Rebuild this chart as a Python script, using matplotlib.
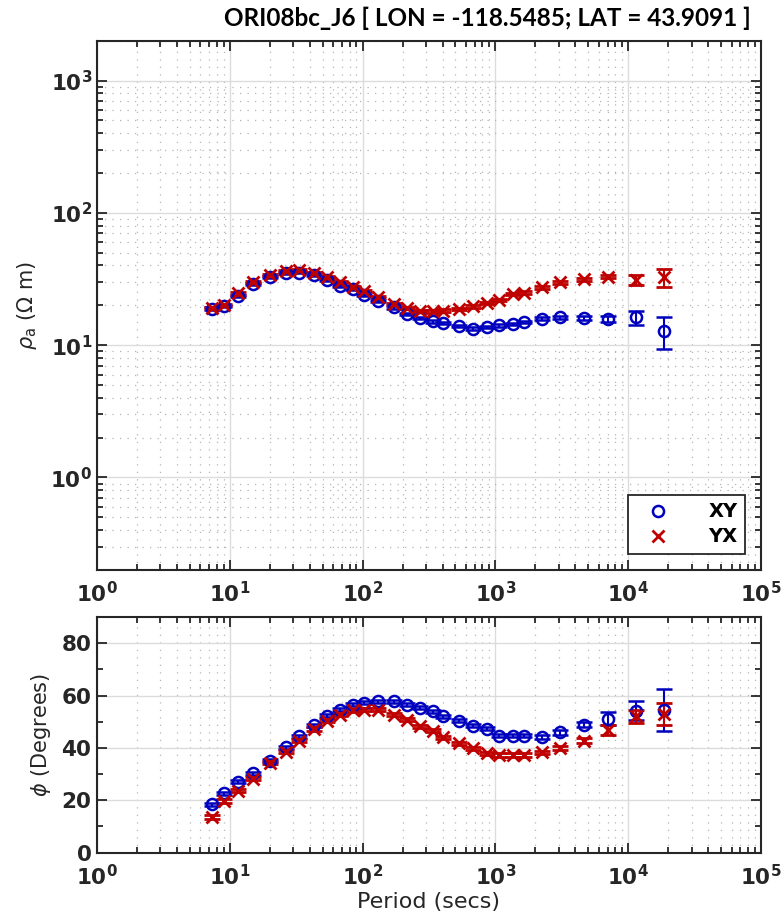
import numpy as np
import matplotlib
matplotlib.use("Agg")
import matplotlib.pyplot as plt
from matplotlib.lines import Line2D
from matplotlib.ticker import LogLocator, FixedLocator, NullFormatter, FuncFormatter

# ---- data ----
periods = [7.3, 9.1, 11.6, 15.0, 20.0, 26.4, 33.0, 42.8, 54.0, 68.0, 84.5, 102, 131, 171,
           216, 273, 341, 401, 530, 683, 860, 1072, 1349, 1652, 2240, 3060, 4670, 7110,
           11540, 18650]

rho_xy = [18.9, 19.8, 23.6, 28.9, 32.5, 35.0, 35.4, 34.0, 31.2, 28.1, 26.8, 23.9, 21.7, 19.3,
          17.3, 16.0, 15.1, 14.7, 14.0, 13.3, 13.7, 14.1, 14.5, 14.9, 15.8, 16.2, 16.0, 15.7,
          16.2, 12.9]
rho_yx = [19.0, 20.0, 24.6, 29.8, 33.8, 36.4, 36.8, 35.4, 32.8, 29.8, 27.6, 25.8, 23.0, 20.5,
          19.1, 18.1, 18.0, 18.2, 18.7, 19.6, 20.9, 22.1, 24.3, 25.0, 27.3, 29.8, 31.5, 33.0,
          31.2, 32.5]
rho_xy_err = [0.4, 0.4, 0.5, 0.5, 0.6, 0.6, 0.6, 0.6, 0.5, 0.5, 0.5, 0.4, 0.4, 0.4,
              0.3, 0.3, 0.3, 0.3, 0.3, 0.3, 0.3, 0.3, 0.3, 0.3, 0.4, 0.4, 0.6, 0.8,
              2.0, 3.5]
rho_yx_err = [0.4, 0.4, 0.5, 0.5, 0.6, 0.6, 0.6, 0.6, 0.5, 0.5, 0.5, 0.5, 0.4, 0.4,
              0.4, 0.4, 0.4, 0.4, 0.4, 0.4, 0.4, 0.4, 0.5, 0.5, 0.6, 0.7, 0.9, 1.0,
              2.8, 5.0]

phi_xy = [18.5, 22.6, 27.0, 30.3, 35.1, 40.3, 44.4, 48.6, 52.3, 54.6, 56.5, 57.2, 57.8, 57.8,
          56.5, 55.3, 54.0, 52.0, 50.4, 48.5, 47.3, 44.7, 44.7, 44.6, 44.1, 45.9, 48.8, 51.2,
          54.2, 54.4]
phi_yx = [13.6, 19.7, 23.6, 28.3, 34.3, 38.6, 42.8, 47.2, 50.4, 52.7, 54.3, 54.6, 54.6, 52.7,
          50.8, 48.3, 46.5, 44.1, 41.8, 39.9, 38.0, 37.3, 37.3, 37.3, 38.3, 39.9, 42.8, 46.9,
          52.0, 53.0]
phi_xy_err = [0.6, 0.6, 0.6, 0.6, 0.6, 0.6, 0.6, 0.6, 0.6, 0.6, 0.6, 0.6, 0.6, 0.6,
              0.6, 0.6, 0.6, 0.6, 0.6, 0.6, 0.6, 0.6, 0.6, 0.6, 0.7, 0.8, 1.0, 2.5,
              3.6, 8.0]
phi_yx_err = [0.6, 0.6, 0.6, 0.6, 0.6, 0.6, 0.6, 0.6, 0.6, 0.6, 0.6, 0.6, 0.6, 0.6,
              0.6, 0.6, 0.6, 0.6, 0.6, 0.6, 0.6, 0.6, 0.6, 0.6, 0.7, 0.8, 1.0, 2.0,
              2.5, 4.3]

title = "ORI08bc_J6 [ LON = -118.5485; LAT = 43.9091 ]"
blue = (0.0, 0.0, 0.75)
red = (0.75, 0.0, 0.0)
ink = "#262626"

fig = plt.figure(figsize=(7.82, 9.18), dpi=100)
ax1 = fig.add_axes([0.124, 0.3791, 0.8491, 0.5766])
ax2 = fig.add_axes([0.124, 0.0713, 0.8491, 0.2565])


def log_fmt(v, pos):
    return r"$\mathbf{10^{%d}}$" % int(round(np.log10(v)))


def style_axes(ax, ylog):
    ax.set_xscale("log")
    ax.set_xlim(1, 1e5)
    ax.xaxis.set_major_locator(LogLocator(base=10, numticks=10))
    ax.xaxis.set_minor_locator(LogLocator(base=10, subs=np.arange(2, 10), numticks=20))
    ax.xaxis.set_major_formatter(FuncFormatter(log_fmt))
    ax.xaxis.set_minor_formatter(NullFormatter())
    ax.tick_params(which="both", direction="in", top=True, right=True,
                   width=1.3, colors=ink, labelsize=15.5, labelcolor=ink)
    ax.tick_params(which="major", length=7)
    ax.tick_params(which="minor", length=4)
    ax.tick_params(axis="x", which="major", pad=8)
    for s in ax.spines.values():
        s.set_linewidth(1.5)
        s.set_color(ink)
    ax.grid(which="major", color="#dcdcdc", lw=1.0, ls="-")
    ax.xaxis.grid(which="minor", color="#b5b5b5", lw=0.9, ls=(0, (1, 5)))
    if ylog:
        ax.yaxis.grid(which="minor", color="#b5b5b5", lw=0.9, ls=(0, (1, 5)))
    ax.set_axisbelow(True)


# ---- apparent resistivity ----
ax1.set_yscale("log")
ax1.set_ylim(0.2, 2000)
ax1.yaxis.set_major_locator(LogLocator(base=10, numticks=10))
ax1.yaxis.set_minor_locator(LogLocator(base=10, subs=np.arange(2, 10), numticks=20))
ax1.yaxis.set_major_formatter(FuncFormatter(log_fmt))
ax1.yaxis.set_minor_formatter(NullFormatter())
style_axes(ax1, True)

ax1.errorbar(periods, rho_xy, yerr=rho_xy_err, fmt="o", color=blue, mfc="none", ms=8,
             mew=1.8, elinewidth=1.5, capsize=6, capthick=1.5, zorder=3)
ax1.errorbar(periods, rho_yx, yerr=rho_yx_err, fmt="x", color=red, ms=8,
             mew=2.0, elinewidth=1.5, capsize=6, capthick=1.5, zorder=3)
ax1.set_ylabel(r"$\rho_{\rm a}$ ($\Omega$ m)", fontsize=15, color=ink, labelpad=8)
fig.text(0.623, 0.980, title, fontsize=17.5, fontweight="bold", ha="center", va="center",
         family=["Lato", "DejaVu Sans"], color="black")

handles = [Line2D([], [], ls="none", marker="o", color=blue, mfc="none", ms=8, mew=1.8),
           Line2D([], [], ls="none", marker="x", color=red, ms=8, mew=2.0)]
leg = ax1.legend(handles, ["XY", "YX"], loc="lower right", bbox_to_anchor=(0.976, 0.03),
                 borderaxespad=0, fancybox=False, framealpha=1, edgecolor=ink,
                 prop={"weight": "bold", "size": 14}, handletextpad=1.5,
                 borderpad=0.4, labelspacing=0.3, handlelength=2.2)
leg.get_frame().set_linewidth(1.3)

# ---- phase ----
ax2.set_ylim(0, 90)
ax2.yaxis.set_major_locator(FixedLocator([0, 20, 40, 60, 80]))
ax2.yaxis.set_minor_locator(FixedLocator([10, 30, 50, 70]))
style_axes(ax2, False)
ax2.yaxis.set_major_formatter(FuncFormatter(lambda v, p: r"$\mathbf{%d}$" % v))

ax2.errorbar(periods, phi_xy, yerr=phi_xy_err, fmt="o", color=blue, mfc="none", ms=8,
             mew=1.8, elinewidth=1.5, capsize=6, capthick=1.5, zorder=3)
ax2.errorbar(periods, phi_yx, yerr=phi_yx_err, fmt="x", color=red, ms=8,
             mew=2.0, elinewidth=1.5, capsize=6, capthick=1.5, zorder=3)
ax2.set_ylabel(r"$\phi$ (Degrees)", fontsize=15, color=ink, labelpad=6)
ax2.set_xlabel("Period (secs)", fontsize=16, color=ink, labelpad=2)

fig.savefig("out.png", dpi=100)
